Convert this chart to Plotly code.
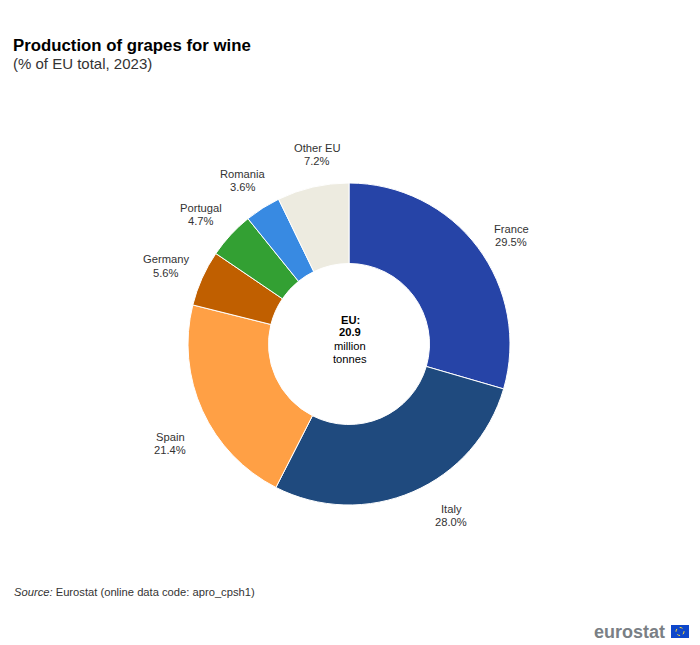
import plotly.graph_objects as go

countries = ['France', 'Italy', 'Spain', 'Germany', 'Portugal', 'Romania', 'Other EU']
shares = [29.5, 28.0, 21.4, 5.6, 4.7, 3.6, 7.2]
colours = ['#2644A7', '#1F4A7E', '#FFA045', '#C05F00', '#33A033', '#388AE2', '#EDEBE0']

# page has an 8px body margin, so the figure starts 8px in
PAD = 8
W = 700 - PAD
H = 645 - PAD
FONT = 'Liberation Sans'

# label centres in window pixels
label_x = [511, 451, 170, 166, 201, 243, 317]
label_y = [235, 515, 443, 266, 214, 180, 155]


def px(x):
    return (x - PAD) / W


def py(y):
    return 1 - (y - PAD) / H


fig = go.Figure()

fig.add_trace(go.Pie(
    labels=countries,
    values=shares,
    sort=False,
    direction='clockwise',
    rotation=0,
    hole=0.5,
    marker=dict(colors=colours, line=dict(color='white', width=1)),
    textinfo='none',
    automargin=False,
    showlegend=False,
    hoverinfo='label+value',
    domain=dict(x=[px(188), px(510)], y=[py(505), py(183)]),
))


def label(text, x, y, size=11.2, color='#333333', anchor='left', step=13):
    lines = text.split('<br>')
    for i, line in enumerate(lines):
        fig.add_annotation(text=line, x=px(x), y=py(y + (i - (len(lines) - 1) / 2) * step),
                           xref='paper', yref='paper', showarrow=False,
                           xanchor=anchor, yanchor='middle', align=anchor,
                           font=dict(family=FONT, size=size, color=color))


for name, share, x, y in zip(countries, shares, label_x, label_y):
    label(f'{name}<br>{share:.1f}%', x, y, anchor='center')

label('<b>Production of grapes for wine</b>', 11, 45, size=16.8, color='black')
label('(% of EU total, 2023)', 11, 63, size=15)
label('<b>EU:</b><br><b>20.9</b><br>million<br>tonnes', 350, 339, anchor='center', color='black')
label('<i>Source:</i> Eurostat (online data code: apro_cpsh1)', 12, 592)
label('<b>eurostat</b>', 592, 632, size=18, color='#7A7F85')

# EU flag of the logo
fig.add_shape(type='rect', xref='paper', yref='paper', x0=px(671), x1=px(689),
              y0=py(638), y1=py(625), fillcolor='#0E47CB', line_width=0)
fig.add_shape(type='circle', xref='paper', yref='paper', x0=px(676), x1=px(684),
              y0=py(635.5), y1=py(627.5), line=dict(color='#FFDD33', width=1, dash='dot'))

fig.update_layout(
    width=W,
    height=H,
    margin=dict(l=0, r=0, t=0, b=0),
    paper_bgcolor='white',
    font=dict(family=FONT),
)

fig.write_html('out.html')
